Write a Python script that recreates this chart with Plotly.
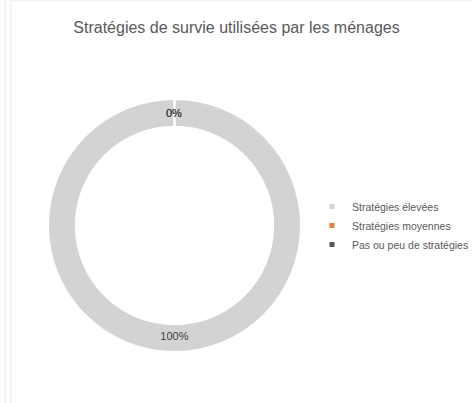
import math
import plotly.graph_objects as go

categories = ["Stratégies élevées", "Stratégies moyennes", "Pas ou peu de stratégies"]
values = [100, 0, 0]
colors = ["#D3D3D3", "#ED7D31", "#595959"]

W, H = 472, 403
# pie placement (pixels in figure)
CX, CY, R = 174.5, 225.5, 126.5
HOLE = 0.78

fig = go.Figure()
fig.add_trace(go.Pie(
    labels=categories,
    values=values,
    hole=HOLE,
    sort=False,
    direction="clockwise",
    rotation=0,
    marker=dict(colors=colors, line=dict(color="white", width=2)),
    texttemplate="%{percent:.0%}",
    textposition="inside",
    insidetextorientation="horizontal",
    textfont=dict(family="Liberation Sans, Arial", size=11, color="#404040"),
    domain=dict(x=[(CX - R) / W, (CX + R) / W], y=[1 - (CY + R) / H, 1 - (CY - R) / H]),
    showlegend=False,
    hoverinfo="label+percent",
))

# legend entries with small square markers
for name, col in zip(categories, colors):
    fig.add_trace(go.Scatter(
        x=[None], y=[None], mode="markers", name=name,
        marker=dict(symbol="square", size=5, color=col),
        hoverinfo="skip",
    ))

# labels for zero-valued slices (plotly hides them); placed at slice start angle (top)
total = sum(values)
annotations = []
cum = 0
for v in values:
    if v == 0:
        ang = math.pi / 2 - 2 * math.pi * cum / total
        rm = R * (1 + HOLE) / 2
        annotations.append(dict(
            xref="paper", yref="paper",
            x=(CX + rm * math.cos(ang)) / W, y=1 - (CY - rm * math.sin(ang)) / H,
            text=f"{round(100 * v / total)}%", showarrow=False,
            font=dict(family="Liberation Sans, Arial", size=11, color="#404040"),
            xanchor="center", yanchor="middle",
        ))
    cum += v

fig.update_layout(
    width=W, height=H,
    margin=dict(l=0, r=0, t=0, b=0, autoexpand=False),
    paper_bgcolor="white",
    plot_bgcolor="white",
    font=dict(family="Liberation Sans, Arial", color="#595959"),
    title=dict(text="Stratégies de survie utilisées par les ménages",
               x=236.5 / W, xanchor="center", y=1 - 27 / H, yanchor="middle",
               font=dict(size=16, color="#595959")),
    legend=dict(x=312 / W, xanchor="left", y=1 - CY / H, yanchor="middle",
                font=dict(size=10.5, color="#595959"), itemwidth=30,
                bgcolor="rgba(0,0,0,0)"),
    xaxis=dict(visible=False), yaxis=dict(visible=False),
    annotations=annotations,
    shapes=[
        dict(type="line", xref="paper", yref="paper", x0=5 / W, x1=5 / W, y0=0, y1=1,
             line=dict(color="#E6E6E6", width=1)),
        dict(type="line", xref="paper", yref="paper", x0=11 / W, x1=11 / W, y0=0, y1=1,
             line=dict(color="#E6E6E6", width=1)),
        dict(type="line", xref="paper", yref="paper", x0=11 / W, x1=1, y0=1, y1=1,
             line=dict(color="#E6E6E6", width=1)),
    ],
)

fig.write_html("out.html", config={"displayModeBar": False},
               post_script="document.body.style.margin='0';")
